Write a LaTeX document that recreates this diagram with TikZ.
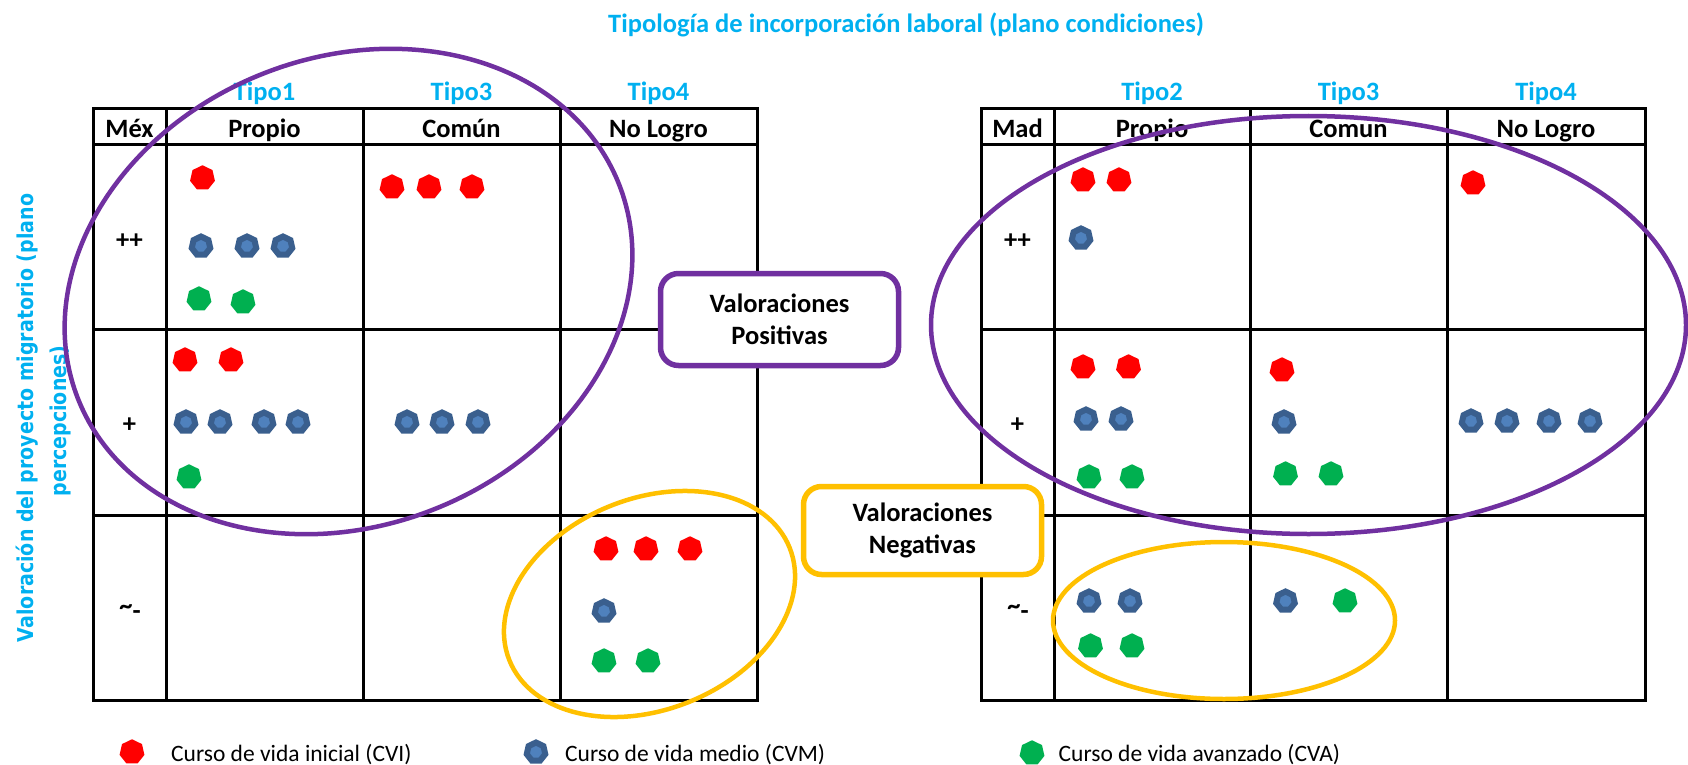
\documentclass[tikz,border=0pt]{standalone}
\usepackage{fontspec}
\setmainfont{Carlito}
\newfontfamily\vfont{DejaVu Sans}
\usetikzlibrary{shapes.geometric}
\definecolor{tblue}{HTML}{00B0F0}
\definecolor{vpurple}{HTML}{7030A0}
\definecolor{vyellow}{HTML}{FFC000}
\definecolor{dred}{HTML}{FF0000}
\definecolor{dgreen}{HTML}{00B050}
\definecolor{bout}{HTML}{3A5F8E}
\definecolor{bin}{HTML}{4F81BD}
\newcommand{\tildeminus}{\raisebox{5pt}{\textasciitilde}-}
\begin{document}
\begin{tikzpicture}[x=1pt,y=-1pt,
 hept/.style={regular polygon, regular polygon sides=7, inner sep=0pt, outer sep=0pt},
 rdot/.style={hept, fill=dred, minimum size=25.5pt},
 gdot/.style={hept, fill=dgreen, minimum size=25.5pt},
 bdot/.style={hept, fill=bin, draw=bout, line width=6pt, minimum size=19pt},
 tblline/.style={line width=3pt, line cap=rect},
 hdr/.style={font=\fontsize{26.5}{32}\selectfont\bfseries, anchor=base, inner sep=0pt},
 tipo/.style={hdr, text=tblue},
 legtxt/.style={font=\fontsize{23.5}{28}\selectfont, anchor=base west, inner sep=0pt},
 vlab/.style={font=\vfont\fontsize{19}{24}\selectfont\bfseries, text=tblue, anchor=base, inner sep=0pt, rotate=90},
 ell/.style={line width=4.5pt},
 valbox/.style={fill=white, line width=5.5pt, rounded corners=18pt, align=center,
   font=\fontsize{26.5}{32}\selectfont\bfseries, inner sep=0pt}
]
\useasboundingbox (0,0) rectangle (1688,765);

% title
\node[tipo] (title) at (906,33) {Tipología de incorporación laboral (plano condiciones)};

% vertical label
\node[vlab] (v1) at (33.3,418) {\scalebox{1}[1.15]{Valoración del proyecto migratorio (plano}};
\node[vlab] (v2) at (66.7,421) {\scalebox{1}[1.15]{percepciones)}};

% left table
\foreach \yy in {109,144,329,515,700} \draw[tblline] (93,\yy) -- (757,\yy);
\foreach \xx in {93,166,363,560,757} \draw[tblline] (\xx,109) -- (\xx,700);
% right table
\foreach \yy in {109,144,329,515,700} \draw[tblline] (981,\yy) -- (1645,\yy);
\foreach \xx in {981,1054,1250,1447,1645} \draw[tblline] (\xx,109) -- (\xx,700);

% tipo labels
\node[tipo] (tl1) at (264.5,101) {Tipo1};
\node[tipo] (tl3) at (461.5,101) {Tipo3};
\node[tipo] (tl4) at (658.5,101) {Tipo4};
\node[tipo] (tr2) at (1152,101) {Tipo2};
\node[tipo] (tr3) at (1348.5,101) {Tipo3};
\node[tipo] (tr4) at (1546,101) {Tipo4};

% headers
\node[hdr] (hl0) at (129.5,137) {Méx};
\node[hdr] (hl1) at (264.5,137) {Propio};
\node[hdr] (hl2) at (461.5,137) {Común};
\node[hdr] (hl3) at (658.5,137) {No Logro};
\node[hdr] (hr0) at (1017.5,137) {Mad};
\node[hdr] (hr1) at (1152,137) {Propio};
\node[hdr] (hr2) at (1348.5,137) {Comun};
\node[hdr] (hr3) at (1546,137) {No Logro};

% row labels
\node[hdr] (rl1) at (129.5,248) {++};
\node[hdr] (rl2) at (129.5,432) {+};
\node[hdr] (rl3) at (130,619) {\tildeminus};
\node[hdr] (rr1) at (1017.5,248) {++};
\node[hdr] (rr2) at (1017.5,432) {+};
\node[hdr] (rr3) at (1018,619) {\tildeminus};

% red dots
\foreach \x/\y [count=\i] in {202.5/178, 392/187, 429/187, 472/187, 185/360, 231/360,
  606/549, 646/549, 690/549, 1083/180, 1119/180, 1473/183, 1083/367, 1128.5/367, 1282/370}
  \node[rdot] (r\i) at (\x,\y) {};
% blue dots
\foreach \x/\y [count=\i] in {201/246, 247/246, 283/246, 186/422, 220/422, 264/422, 298/422,
  407/422, 442/422, 478/422, 604/611, 1081/238, 1086/419, 1121/419, 1284/422, 1471/421,
  1507/421, 1549/421, 1590/421, 1089/601, 1130/601, 1285.5/601}
  \node[bdot] (b\i) at (\x,\y) {};
% green dots
\foreach \x/\y [count=\i] in {199/299, 243/302, 189/477, 604/661, 648/661, 1089/477, 1132/477,
  1285.5/474, 1331/474, 1090.5/646, 1132/646, 1345/601}
  \node[gdot] (g\i) at (\x,\y) {};

% ellipses
\draw[ell, vpurple, rotate around={21.8:(348.5,291.5)}] (348.5,291.5) ellipse [x radius=291pt, y radius=234pt];
\draw[ell, vpurple] (1308.5,325) ellipse [x radius=377.5pt, y radius=209pt];
\draw[ell, vyellow, rotate around={21.9:(649.5,604)}] (649.5,604) ellipse [x radius=151pt, y radius=105.6pt];
\draw[ell, vyellow] (1224,620.5) ellipse [x radius=171pt, y radius=78.5pt];

% boxes
\node[valbox, draw=vpurple, minimum width=238pt, minimum height=92pt] (pos) at (779.5,319.5) {Valoraciones\\Positivas};
\node[valbox, draw=vyellow, minimum width=238pt, minimum height=88pt] (neg) at (922.5,530.5) {Valoraciones\\Negativas};

% legend
\node[rdot] (lr) at (132,752) {};
\node[legtxt] (lrt) at (171,761) {Curso de vida inicial (CVI)};
\node[bdot] (lb) at (536,752) {};
\node[legtxt] (lbt) at (565,761) {Curso de vida medio (CVM)};
\node[gdot] (lg) at (1032,753) {};
\node[legtxt] (lgt) at (1058.5,761) {Curso de vida avanzado (CVA)};
\end{tikzpicture}
\end{document}
